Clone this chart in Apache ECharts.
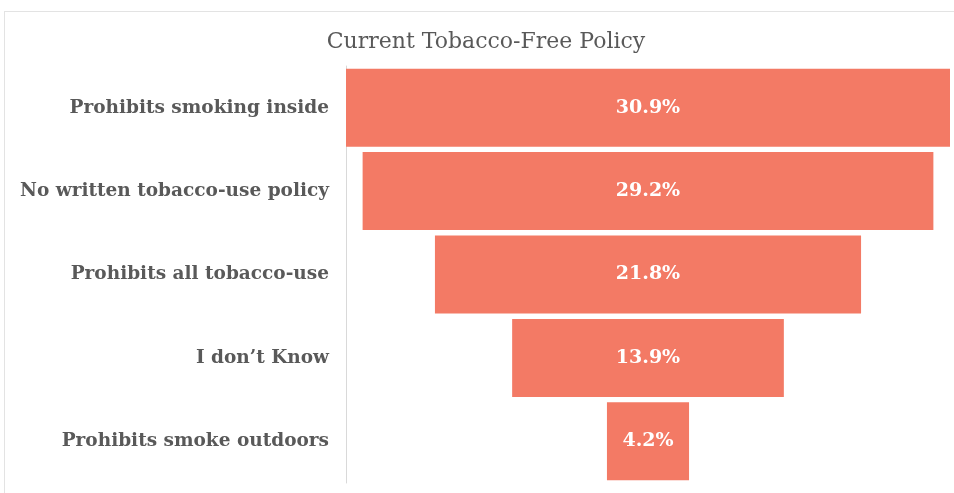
<!DOCTYPE html>
<html>
<head>
<meta charset="utf-8">
<script src="https://cdn.jsdelivr.net/npm/echarts@6/dist/echarts.min.js"></script>
<style>
  html, body { margin: 0; padding: 0; background: #ffffff; }
  #chart { width: 954px; height: 493px; }
</style>
</head>
<body>
<div id="chart"></div>
<script>
// Policy categories (top to bottom) and their shares in percent
const categories = [
  'Prohibits smoking inside',
  'No written tobacco-use policy',
  'Prohibits all tobacco-use',
  'I don\u2019t Know',
  'Prohibits smoke outdoors'
];
const shares = [30.9, 29.2, 21.8, 13.9, 4.2];
const chartTitle = 'Current Tobacco-Free Policy';

// Centre each bar: an invisible spacer of half the remaining width sits before it
const maxShare = Math.max(...shares);
const spacers = shares.map(v => (maxShare - v) / 2);

const serif = '"DejaVu Serif", "Liberation Serif", serif';
const chart = echarts.init(document.getElementById('chart'));

chart.setOption({
  animation: false,
  backgroundColor: '#ffffff',
  title: {
    text: chartTitle,
    left: 481,
    textAlign: 'center',
    top: 26,
    textStyle: { fontFamily: serif, fontSize: 22, fontWeight: 'normal', color: '#595959' }
  },
  graphic: [
    { type: 'line', shape: { x1: 4, y1: 11.5, x2: 954, y2: 11.5 }, style: { stroke: '#e3e3e3', lineWidth: 1 } },
    { type: 'line', shape: { x1: 4.5, y1: 11, x2: 4.5, y2: 493 }, style: { stroke: '#e3e3e3', lineWidth: 1 } }
  ],
  grid: { left: 346, right: 4, top: 66, bottom: 10, containLabel: false },
  xAxis: {
    type: 'value',
    min: 0,
    max: maxShare,
    show: false
  },
  yAxis: {
    type: 'category',
    data: categories,
    inverse: true,
    axisLine: { show: true, lineStyle: { color: '#d9d9d9', width: 1 } },
    axisTick: { show: false },
    axisLabel: {
      margin: 17,
      fontFamily: serif,
      fontSize: 18.5,
      fontWeight: 'bold',
      color: '#595959'
    }
  },
  series: [
    {
      type: 'bar',
      stack: 'funnel',
      data: spacers,
      itemStyle: { color: 'transparent' },
      silent: true,
      barCategoryGap: '6.5%'
    },
    {
      type: 'bar',
      stack: 'funnel',
      data: shares,
      barCategoryGap: '6.5%',
      itemStyle: { color: '#F37A65' },
      label: {
        show: true,
        position: 'inside',
        formatter: p => p.value.toFixed(1) + '%',
        fontFamily: serif,
        fontSize: 19,
        fontWeight: 'bold',
        color: '#ffffff'
      }
    }
  ]
});
</script>
</body>
</html>
